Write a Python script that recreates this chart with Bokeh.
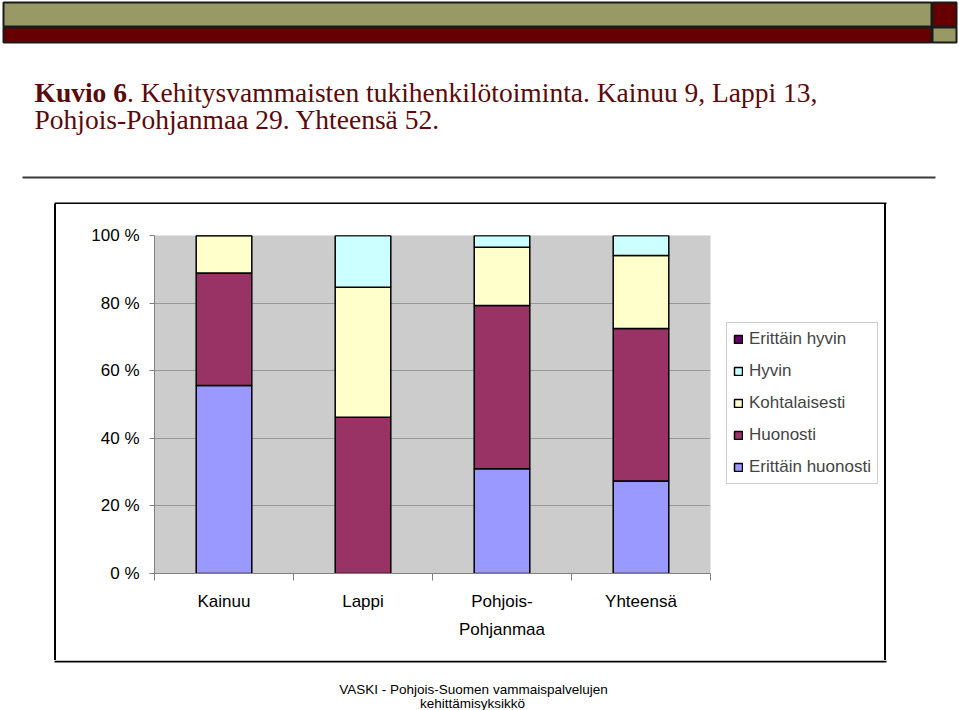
from bokeh.plotting import figure
from bokeh.layouts import column, row
from bokeh.models import (Range1d, FixedTicker, PrintfTickFormatter, Legend, LegendItem,
                          ColumnDataSource, Div)
from bokeh.core.properties import value
from bokeh.embed import file_html
from bokeh.resources import INLINE

# ---- data (percent of respondents) ----
categories = ["Kainuu", "Lappi", "Pohjois-\nPohjanmaa", "Yhteensä"]
erittain_huonosti = [55.6, 0.0, 31.0, 27.4]
huonosti = [33.3, 46.2, 48.3, 45.1]
kohtalaisesti = [11.1, 38.5, 17.2, 21.6]
hyvin = [0.0, 15.3, 3.5, 5.9]
erittain_hyvin = [0.0, 0.0, 0.0, 0.0]
series_names = ["Erittäin huonosti", "Huonosti", "Kohtalaisesti", "Hyvin", "Erittäin hyvin"]
series_colors = ["#9999FF", "#993366", "#FFFFCC", "#CCFFFF", "#660066"]
y_ticks = [0, 20, 40, 60, 80, 100]

title_bold = "Kuvio 6"
title_rest = ". Kehitysvammaisten tukihenkilötoiminta. Kainuu 9, Lappi 13,"
title_line2 = "Pohjois-Pohjanmaa 29. Yhteensä 52."
footer1 = "VASKI - Pohjois-Suomen vammaispalvelujen"
footer2 = "kehittämisyksikkö"

W = 959
HEAD_H = 204
MID_H = 456
FOOT_H = 50
LEFT_W = 56
CHART_W = 660
LEG_W = 168
EDGE_W = W - LEFT_W - CHART_W - LEG_W
B_TOP, B_BOT = 31, 87   # chart frame borders inside the middle band


def deco(width, height, x0, y0):
    f = figure(width=width, height=height, output_backend="svg", toolbar_location=None,
               x_range=Range1d(x0, x0 + width), y_range=Range1d(y0 + height, y0),
               x_axis_location=None, y_axis_location=None, min_border=0)
    f.grid.visible = False
    f.outline_line_color = None
    f.background_fill_color = "white"
    f.border_fill_color = "white"
    return f

# ---- header: slide bars, title, rule, top edge of chart box ----
head = deco(W, HEAD_H, 0, 0)
head.quad(left=[3, 3, 932, 932], right=[931, 931, 956, 956], top=[2, 27, 2, 27],
          bottom=[26, 42, 26, 42], fill_color=["#999966", "#660000", "#660000", "#999966"],
          line_color="#1a1a1a", line_width=2)
head.quad(left=[22], right=[935], top=[176], bottom=[178], fill_color="#3a3a3a", line_color=None)
head.quad(left=[54], right=[886], top=[202], bottom=[204], fill_color="black", line_color=None)
tc = "#5a0a0a"
head.text(x=[34], y=[92], text=[title_bold], text_font=value("Liberation Serif"),
          text_font_style="bold", text_font_size="27.5px", text_color=tc,
          text_baseline="alphabetic")
head.text(x=[126.5], y=[92], text=[title_rest], text_font=value("Liberation Serif"),
          text_font_size="27.5px", text_color=tc, text_baseline="alphabetic")
head.text(x=[34], y=[119], text=[title_line2], text_font=value("Liberation Serif"),
          text_font_size="27.5px", text_color=tc, text_baseline="alphabetic")

# ---- side edges of the chart box ----
left = Div(width=LEFT_W, height=MID_H, margin=0,
           styles={"background": "linear-gradient(to right, #ffffff 0px, #ffffff 54px, "
                                 "#000000 54px, #000000 56px)"})
edge = Div(width=EDGE_W, height=MID_H, margin=0,
           styles={"background": "linear-gradient(to right, #000000 0px, #000000 2px, "
                                 "#ffffff 2px, #ffffff 100%)"})

# ---- legend panel ----
legf = figure(width=LEG_W, height=MID_H, output_backend="svg", toolbar_location=None,
              x_range=Range1d(0, 1), y_range=Range1d(0, 1), x_axis_location=None,
              y_axis_location=None, min_border_left=0, min_border_right=0,
              min_border_top=B_TOP, min_border_bottom=B_BOT)
legf.grid.visible = False
legf.outline_line_color = None
legf.background_fill_color = "white"
legf.border_fill_color = "white"
# legend swatch renderers: tiny, hidden behind the opaque legend box; only their style is used
swatches = [legf.vbar(x=[0.5], top=[0.501], bottom=[0.5], width=0.001, fill_color=c,
                      line_color="black", line_width=1.5)
            for c in series_colors]
items = [LegendItem(label=n, renderers=[r]) for n, r in zip(series_names, swatches)][::-1]
legend = Legend(items=items, location=(726 - (LEFT_W + CHART_W), (HEAD_H + MID_H - B_BOT) - 484),
                orientation="vertical")
legend.label_text_font = "Liberation Sans"
legend.label_text_font_size = "17px"
legend.glyph_width = 10
legend.glyph_height = 10
legend.label_height = 20
legend.spacing = 12
legend.padding = 6
legend.label_standoff = 6
legend.margin = 0
legend.border_line_color = "#A0A0A0"
legend.border_line_width = 1
legend.background_fill_color = "white"
legend.background_fill_alpha = 1
legf.add_layout(legend)

# ---- footer ----
foot = deco(W, FOOT_H, 0, HEAD_H + MID_H)
foot.quad(left=[54], right=[886], top=[660], bottom=[662], fill_color="black", line_color=None)
foot.text(x=[473], y=[689], text=[footer1], text_font=value("Liberation Sans"),
          text_font_size="13.5px", text_align="center", text_baseline="alphabetic",
          text_color="black")
foot.text(x=[472], y=[703], text=[footer2], text_font=value("Liberation Sans"),
          text_font_size="13.5px", text_align="center", text_baseline="alphabetic",
          text_color="black")

# ---- chart ----
xs = [i + 0.5 for i in range(len(categories))]
keys = ["eh", "h", "k", "hy", "ehy"]
source = ColumnDataSource(dict(x=xs, eh=erittain_huonosti, h=huonosti, k=kohtalaisesti,
                               hy=hyvin, ehy=erittain_hyvin))

p = figure(width=CHART_W, height=MID_H, output_backend="svg", toolbar_location=None,
           x_range=Range1d(0, len(categories)), y_range=Range1d(0, 100),
           min_border_left=98, min_border_right=6, min_border_top=B_TOP,
           min_border_bottom=B_BOT)
p.background_fill_color = "#CCCCCC"
p.border_fill_color = "white"
p.outline_line_color = None

renderers = p.vbar_stack(keys, x="x", width=0.4, source=source, color=series_colors,
                         line_color="black", line_width=1.5)
for r, c in zip(renderers, series_colors):
    r.glyph.fill_color = c
    r.glyph.line_color = "black"

xa = p.xaxis[0]
xa.ticker = FixedTicker(ticks=xs, minor_ticks=list(range(len(categories) + 1)))
xa.major_label_overrides = {x: c for x, c in zip(xs, categories)}
xa.major_tick_out = 0
xa.major_tick_in = 0
xa.minor_tick_out = 7
xa.minor_tick_in = 0
xa.minor_tick_line_color = "#808080"
xa.axis_line_color = "#808080"
xa.major_label_text_font = "Liberation Sans"
xa.major_label_text_font_size = "17px"
xa.major_label_text_color = "black"
xa.major_label_standoff = 11
xa.major_label_text_line_height = 1.5

ya = p.yaxis[0]
ya.ticker = FixedTicker(ticks=y_ticks, minor_ticks=[])
ya.formatter = PrintfTickFormatter(format="%d %%")
ya.major_tick_out = 5
ya.major_tick_in = 0
ya.major_tick_line_color = "#808080"
ya.axis_line_color = "#808080"
ya.major_label_text_font = "Liberation Sans"
ya.major_label_text_font_size = "17px"
ya.major_label_text_color = "black"
ya.major_label_standoff = 10

p.xgrid.grid_line_color = None
p.ygrid.grid_line_color = "#999999"
p.ygrid.grid_line_width = 1

layout = column(head, row(left, p, legf, edge), foot)
open("out.html", "w").write(file_html(layout, INLINE))
